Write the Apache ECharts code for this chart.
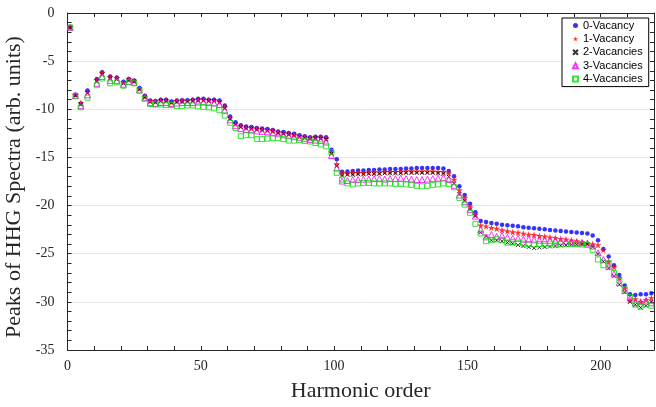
<!DOCTYPE html>
<html>
<head>
<meta charset="utf-8">
<script src="https://cdn.jsdelivr.net/npm/echarts@6.0.0/dist/echarts.min.js"></script>
<style>
html,body{margin:0;padding:0;background:#fff;}
#chart{width:656px;height:407px;}
</style>
</head>
<body>
<div id="chart"></div>
<script>
// Harmonic orders (x)
const harmonics = [
  1, 3, 5, 7.5, 11, 13, 16, 18.5, 21, 23,
  25, 27, 29, 31, 33, 35, 37, 39, 41, 43,
  45, 47, 49, 51, 53, 55, 57, 59, 61, 63,
  65, 67, 69, 71, 73, 75, 77, 79, 81, 83,
  85, 87, 89, 91, 93, 95, 97, 99, 101, 103,
  105, 107, 109, 111, 113, 115, 117, 119, 121, 123,
  125, 127, 129, 131, 133, 135, 137, 139, 141, 143,
  145, 147, 149, 151, 153, 155, 157, 159, 161, 163,
  165, 167, 169, 171, 173, 175, 177, 179, 181, 183,
  185, 187, 189, 191, 193, 195, 197, 199, 201, 203,
  205, 207, 209, 211, 213, 215, 217, 219
];

const vacancy0 = [
  -1.45, -8.5, -9.4, -8.05, -6.85, -6.15, -6.6, -6.7, -7.15, -6.85,
  -7.0, -7.8, -8.6, -9.1, -9.15, -9.0, -9.0, -9.2, -9.1, -9.05,
  -9.05, -9.0, -8.9, -8.9, -9.0, -9.0, -9.1, -9.6, -10.75, -11.35,
  -11.65, -11.8, -11.85, -11.95, -12.0, -12.05, -12.15, -12.3, -12.35, -12.45,
  -12.55, -12.7, -12.8, -12.9, -12.85, -12.85, -12.9, -14.2, -15.2, -16.5,
  -16.45, -16.4, -16.35, -16.35, -16.3, -16.3, -16.25, -16.25, -16.2, -16.2,
  -16.2, -16.15, -16.15, -16.1, -16.1, -16.1, -16.1, -16.1, -16.15, -16.4,
  -16.95, -18.0, -18.9, -19.8, -20.7, -21.6, -21.7, -21.8, -21.9, -22.0,
  -22.05, -22.1, -22.15, -22.25, -22.3, -22.35, -22.4, -22.45, -22.55, -22.6,
  -22.65, -22.7, -22.75, -22.8, -22.85, -22.9, -23.1, -23.6, -24.5, -25.3,
  -26.2, -27.2, -28.3, -29.2, -29.3, -29.2, -29.2, -29.1
];

const vacancy1 = [
  -1.5, -8.5, -9.35, -8.2, -6.95, -6.2, -6.65, -6.75, -7.2, -6.9,
  -7.05, -7.85, -8.7, -9.15, -9.2, -9.05, -9.05, -9.25, -9.15, -9.1,
  -9.1, -9.05, -9.0, -9.0, -9.05, -9.05, -9.2, -9.8, -10.9, -11.5,
  -11.75, -11.9, -11.95, -12.05, -12.1, -12.15, -12.25, -12.4, -12.45, -12.55,
  -12.65, -12.8, -12.9, -13.0, -12.95, -12.95, -13.05, -14.5, -15.7, -16.65,
  -16.65, -16.6, -16.6, -16.6, -16.55, -16.55, -16.55, -16.5, -16.5, -16.5,
  -16.5, -16.45, -16.45, -16.45, -16.45, -16.45, -16.45, -16.5, -16.5, -16.65,
  -17.3, -18.4, -19.2, -20.1, -20.9, -22.05, -22.15, -22.3, -22.4, -22.55,
  -22.65, -22.75, -22.8, -22.9, -23.0, -23.05, -23.15, -23.2, -23.3, -23.35,
  -23.45, -23.5, -23.6, -23.7, -23.8, -23.9, -24.0, -24.1, -24.6, -25.8,
  -26.4, -27.5, -28.6, -29.8, -29.7, -30.0, -29.8, -29.6
];

const vacancy2 = [
  -1.5, -8.55, -9.5, -8.3, -7.1, -6.4, -6.8, -6.9, -7.3, -7.0,
  -7.1, -7.9, -8.75, -9.2, -9.3, -9.15, -9.15, -9.3, -9.25, -9.2,
  -9.2, -9.15, -9.1, -9.1, -9.15, -9.15, -9.3, -9.9, -11.0, -11.55,
  -11.85, -11.95, -12.0, -12.1, -12.15, -12.2, -12.3, -12.45, -12.5, -12.6,
  -12.7, -12.85, -12.95, -13.05, -13.0, -13.05, -13.15, -14.6, -15.9, -16.9,
  -16.8, -16.8, -16.75, -16.75, -16.7, -16.7, -16.7, -16.65, -16.65, -16.65,
  -16.65, -16.6, -16.6, -16.6, -16.6, -16.6, -16.6, -16.65, -16.7, -17.0,
  -17.7, -18.8, -19.5, -20.4, -21.1, -22.8, -23.2, -23.6, -23.6, -23.7,
  -23.85, -23.95, -24.1, -24.2, -24.3, -24.4, -24.35, -24.3, -24.25, -24.2,
  -24.15, -24.1, -24.05, -24.05, -24.05, -24.0, -24.3, -25.0, -25.8, -26.5,
  -27.3, -28.2, -29.0, -30.0, -30.3, -30.6, -30.4, -30.0
];

const vacancy3 = [
  -1.5, -8.6, -9.6, -8.5, -7.3, -6.6, -7.0, -7.0, -7.4, -7.1,
  -7.2, -8.0, -8.8, -9.3, -9.4, -9.3, -9.3, -9.4, -9.35, -9.3,
  -9.3, -9.3, -9.25, -9.25, -9.3, -9.35, -9.5, -10.1, -11.1, -11.7,
  -12.0, -12.1, -12.15, -12.25, -12.3, -12.35, -12.45, -12.55, -12.65, -12.75,
  -12.85, -12.95, -13.05, -13.15, -13.2, -13.25, -13.4, -14.8, -16.1, -17.45,
  -17.4, -17.3, -17.3, -17.25, -17.25, -17.2, -17.2, -17.25, -17.2, -17.2,
  -17.15, -17.2, -17.25, -17.3, -17.3, -17.25, -17.2, -17.15, -17.1, -17.3,
  -17.9, -18.9, -19.6, -20.4, -21.1, -22.5, -23.25, -23.0, -23.2, -23.1,
  -23.3, -23.4, -23.4, -23.5, -23.5, -23.55, -23.6, -23.6, -23.6, -23.65,
  -23.7, -23.7, -23.75, -23.8, -23.85, -23.9, -24.2, -24.9, -25.6, -26.3,
  -27.1, -28.0, -28.8, -29.6, -30.1, -30.0, -29.9, -30.1
];

const vacancy4 = [
  -1.5, -8.6, -9.8, -8.8, -7.5, -6.8, -7.3, -7.2, -7.55, -7.2,
  -7.3, -8.05, -8.9, -9.45, -9.5, -9.5, -9.55, -9.55, -9.65, -9.65,
  -9.6, -9.6, -9.7, -9.75, -9.8, -9.9, -10.1, -10.65, -11.4, -11.95,
  -12.8, -12.7, -12.7, -13.1, -13.1, -13.05, -13.0, -13.0, -13.1, -13.25,
  -13.25, -13.2, -13.3, -13.35, -13.5, -13.65, -13.85, -14.45, -16.6, -17.3,
  -17.7, -17.8, -17.7, -17.65, -17.65, -17.7, -17.7, -17.7, -17.7, -17.75,
  -17.75, -17.8, -17.85, -17.95, -18.0, -17.95, -17.85, -17.8, -17.7, -17.75,
  -18.1, -19.2, -19.9, -20.75, -21.9, -22.9, -23.7, -23.6, -23.5, -23.6,
  -23.85, -23.8, -23.85, -23.95, -24.0, -24.05, -24.0, -24.0, -23.95, -24.05,
  -24.0, -24.0, -24.0, -24.0, -24.05, -24.1, -24.6, -25.6, -26.2, -26.0,
  -27.0, -27.8, -28.7, -29.5, -30.3, -30.5, -30.2, -30.4
];

const seriesNames = ['0-Vacancy', '1-Vacancy', '2-Vacancies', '3-Vacancies', '4-Vacancies'];
const xTickLabels = ['0', '50', '100', '150', '200'];

const STAR = 'path://M0,-10L2.245,-3.09L9.511,-3.09L3.633,1.18L5.878,8.09L0,3.82L-5.878,8.09L-3.633,1.18L-9.511,-3.09L-2.245,-3.09Z';
const CROSS = 'path://M0,0L10,10M10,0L0,10';

const pair = (ys) => harmonics.map((x, i) => [x, ys[i]]);

const styles = [
  {symbol: 'circle', symbolSize: 4.5, itemStyle: {color: '#0000ff'}},
  {symbol: STAR, symbolSize: 7, itemStyle: {color: '#ff0000'}},
  {symbol: CROSS, symbolSize: 4, itemStyle: {color: '#000000', borderColor: '#000000', borderWidth: 1}},
  {symbol: 'triangle', symbolSize: 6, itemStyle: {color: 'rgba(255,255,255,0)', borderColor: '#ff00ff', borderWidth: 1}},
  {symbol: 'rect', symbolSize: 5, itemStyle: {color: 'rgba(255,255,255,0)', borderColor: '#00e000', borderWidth: 1}}
];
const allData = [vacancy0, vacancy1, vacancy2, vacancy3, vacancy4];

const axisColor = '#262626';
const serif = '"Liberation Serif", "DejaVu Serif", serif';

const chart = echarts.init(document.getElementById('chart'), null, {renderer: 'canvas'});
chart.setOption({
  animation: false,
  backgroundColor: '#ffffff',
  grid: {left: 67.5, right: 2, top: 13, bottom: 57, containLabel: false, outerBoundsMode: 'none'},
  legend: {
    data: seriesNames,
    orient: 'vertical',
    left: 562,
    top: 18,
    backgroundColor: '#ffffff',
    borderColor: '#000000',
    borderWidth: 1,
    padding: [1, 6, 1, 10],
    itemGap: 0.4,
    itemWidth: 5,
    itemHeight: 5,
    textStyle: {fontFamily: '"Liberation Sans", Arial, sans-serif', fontSize: 11, color: '#000', lineHeight: 13}
  },
  xAxis: [{
    type: 'value', min: 0, max: 220, interval: 10,
    name: 'Harmonic order', nameLocation: 'middle', nameGap: 30,
    nameTextStyle: {fontFamily: serif, fontSize: 22, color: axisColor},
    axisLine: {show: true, onZero: false, lineStyle: {color: axisColor, width: 1}},
    axisTick: {show: true, inside: true, length: 4, lineStyle: {color: axisColor}},
    axisLabel: {
      margin: 9, fontFamily: serif, fontSize: 14, color: axisColor,
      formatter: (v) => xTickLabels.indexOf(String(v)) >= 0 ? String(v) : ''
    },
    splitLine: {show: false}
  }, {
    type: 'value', min: 0, max: 220, interval: 10, position: 'top',
    axisLine: {show: true, onZero: false, lineStyle: {color: axisColor, width: 1}},
    axisTick: {show: true, inside: true, length: 4, lineStyle: {color: axisColor}},
    axisLabel: {show: false},
    splitLine: {show: false}
  }],
  yAxis: [{
    type: 'value', min: -35, max: 0, interval: 5,
    name: 'Peaks of HHG Spectra (arb. units)', nameLocation: 'middle', nameGap: 34,
    nameTextStyle: {fontFamily: serif, fontSize: 22, color: axisColor, padding: [0, 11, 0, 0]},
    axisLine: {show: true, onZero: false, lineStyle: {color: axisColor, width: 1}},
    axisTick: {show: true, inside: true, length: 4, lineStyle: {color: axisColor}},
    minorTick: {show: true, splitNumber: 5, length: 4, lineStyle: {color: axisColor}},
    axisLabel: {margin: 13, fontFamily: serif, fontSize: 14, color: axisColor},
    splitLine: {show: true, lineStyle: {color: '#e6e6e6', width: 1}}
  }, {
    type: 'value', min: -35, max: 0, interval: 5, position: 'right',
    axisLine: {show: true, onZero: false, lineStyle: {color: axisColor, width: 1}},
    axisTick: {show: true, inside: true, length: 4, lineStyle: {color: axisColor}},
    minorTick: {show: true, splitNumber: 5, length: 4, lineStyle: {color: axisColor}},
    axisLabel: {show: false},
    splitLine: {show: false}
  }],
  series: allData.map((ys, i) => Object.assign({
    name: seriesNames[i],
    type: 'scatter',
    xAxisIndex: 0,
    yAxisIndex: 0,
    data: pair(ys)
  }, styles[i]))
});
</script>
</body>
</html>
